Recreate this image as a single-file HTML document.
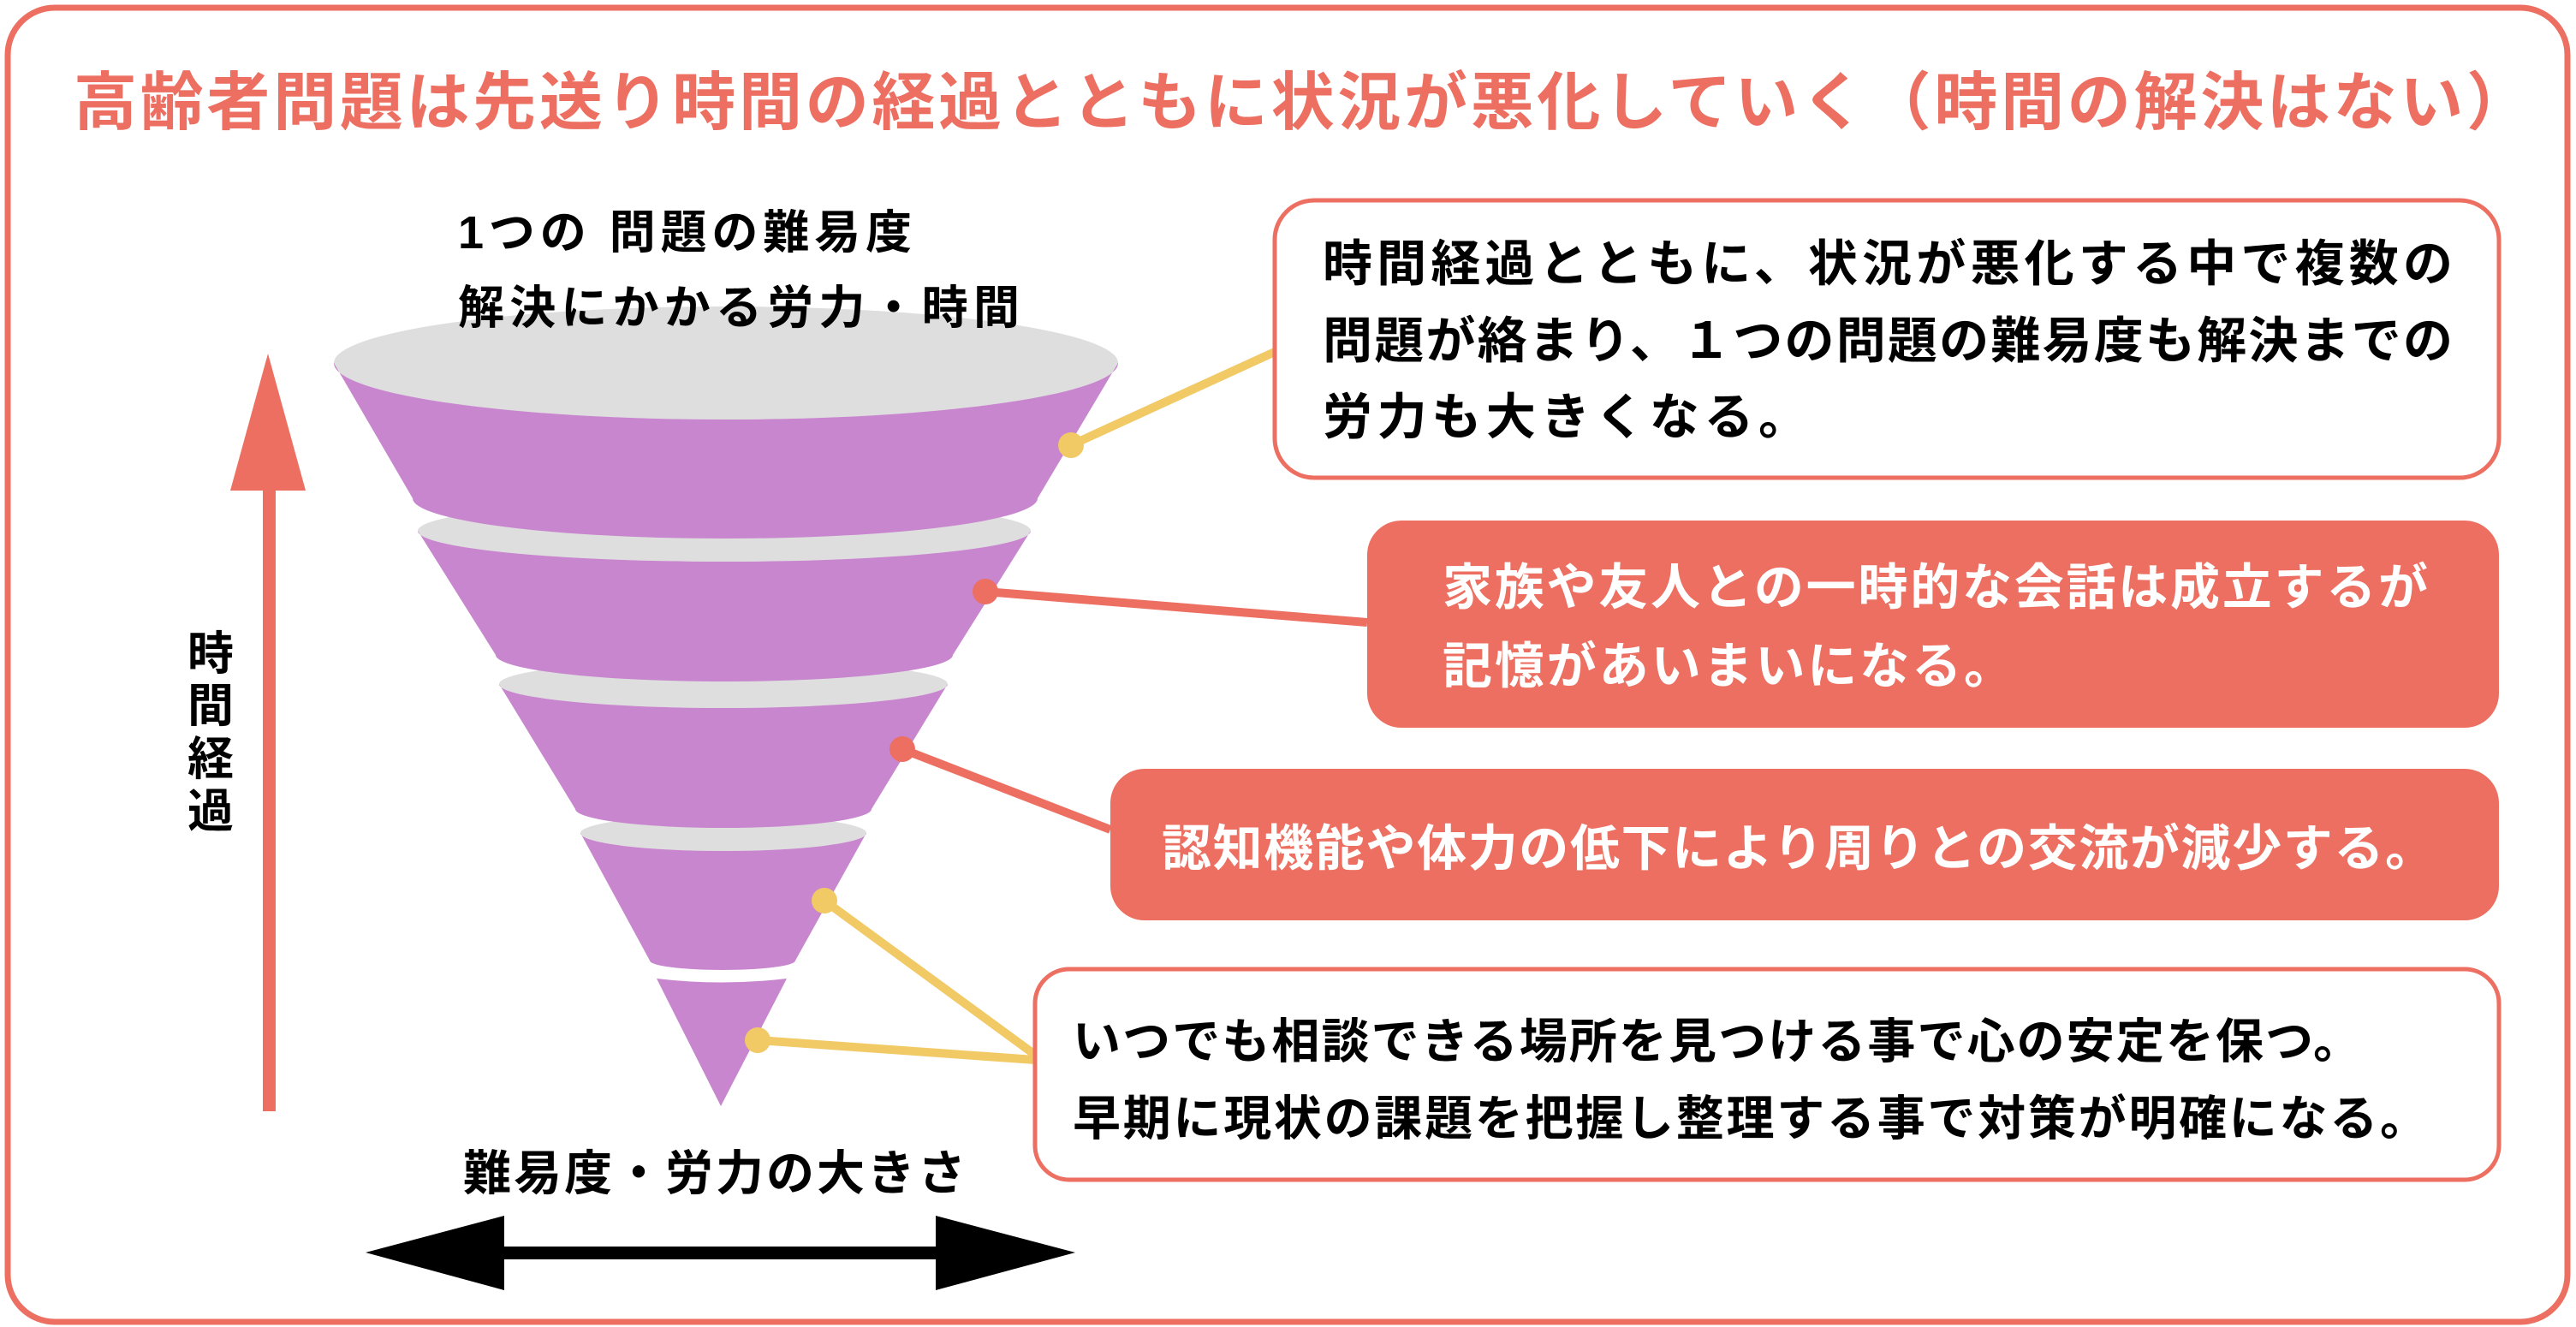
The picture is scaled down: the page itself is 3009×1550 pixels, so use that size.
<!DOCTYPE html>
<html><head><meta charset="utf-8"><style>
html,body{margin:0;padding:0;background:#fff;}
svg{display:block;}
text{font-family:"Liberation Sans","Noto Sans CJK JP",sans-serif;font-weight:bold;}
</style></head><body>
<svg width="3009" height="1550" viewBox="0 0 3009 1550" xmlns="http://www.w3.org/2000/svg">
<rect x="9" y="9" width="2990" height="1535" rx="55" fill="#fff" stroke="#ec6f61" stroke-width="7"/>
<text x="86" y="145" font-size="74" fill="#ec6f61" textLength="2869" lengthAdjust="spacing">高齢者問題は先送り時間の経過とともに状況が悪化していく（時間の解決はない）</text>

<!-- vertical arrow -->
<rect x="307" y="565" width="15" height="733" fill="#ec6f61"/>
<polygon points="313,413 269,573 357,573" fill="#ec6f61"/>
<text x="246" y="782" font-size="54" text-anchor="middle" fill="#000">時</text>
<text x="246" y="843" font-size="54" text-anchor="middle" fill="#000">間</text>
<text x="246" y="905" font-size="54" text-anchor="middle" fill="#000">経</text>
<text x="246" y="966" font-size="54" text-anchor="middle" fill="#000">過</text>

<!-- funnel -->
<path d="M767,1143 Q843,1152 919,1143 L842,1292 Z" fill="#c886ce"/>
<ellipse cx="845" cy="973" rx="167" ry="21" fill="#dedede"/>
<path d="M678,973 A167 21 0 0 0 1012,973 L929,1122 A85 11 0 0 1 759,1122 Z" fill="#c886ce"/>
<ellipse cx="845" cy="799" rx="262" ry="28" fill="#dedede"/>
<path d="M583,799 A262 28 0 0 0 1107,799 L1018,945 A173 22 0 0 1 672,945 Z" fill="#c886ce"/>
<ellipse cx="846" cy="620" rx="358" ry="36" fill="#dedede"/>
<path d="M488,620 A358 36 0 0 0 1204,620 L1113,765 A267 31 0 0 1 579,765 Z" fill="#c886ce"/>
<ellipse cx="848" cy="424" rx="458" ry="66" fill="#dedede"/>
<path d="M390,424 A458 66 0 0 0 1306,424 L1212,582 A365 47 0 0 1 482,582 Z" fill="#c886ce"/>

<text x="535" y="290" font-size="54" fill="#000" textLength="530" lengthAdjust="spacing">1つの 問題の難易度</text>
<text x="535" y="378" font-size="54" fill="#000" textLength="656" lengthAdjust="spacing">解決にかかる労力・時間</text>
<text x="541" y="1390" font-size="56" fill="#000" textLength="587" lengthAdjust="spacing">難易度・労力の大きさ</text>

<!-- double arrow -->
<rect x="585" y="1456" width="512" height="15" fill="#000"/>
<polygon points="427,1463 589,1420 589,1507" fill="#000"/>
<polygon points="1256,1463 1093,1420 1093,1507" fill="#000"/>

<!-- connectors -->
<line x1="1251" y1="520" x2="1489" y2="411" stroke="#f1c965" stroke-width="10"/>
<circle cx="1251" cy="520" r="15" fill="#f1c965"/>
<line x1="1151" y1="691" x2="1597" y2="727" stroke="#ec6f61" stroke-width="10"/>
<circle cx="1151" cy="691" r="15" fill="#ec6f61"/>
<line x1="1054" y1="875" x2="1297" y2="969" stroke="#ec6f61" stroke-width="10"/>
<circle cx="1054" cy="875" r="15" fill="#ec6f61"/>
<line x1="963" y1="1052" x2="1209" y2="1232" stroke="#f1c965" stroke-width="10"/>
<circle cx="963" cy="1052" r="15" fill="#f1c965"/>
<line x1="885" y1="1215" x2="1209" y2="1238" stroke="#f1c965" stroke-width="10"/>
<circle cx="885" cy="1215" r="15" fill="#f1c965"/>

<!-- boxes -->
<rect x="1489" y="234" width="1430" height="324" rx="46" fill="#fff" stroke="#ec6f61" stroke-width="5"/>
<text x="1545" y="328" font-size="58" fill="#000" textLength="1320" lengthAdjust="spacing">時間経過とともに、状況が悪化する中で複数の</text>
<text x="1545" y="418" font-size="58" fill="#000" textLength="1320" lengthAdjust="spacing">問題が絡まり、１つの問題の難易度も解決までの</text>
<text x="1545" y="507" font-size="58" fill="#000" textLength="567" lengthAdjust="spacing">労力も大きくなる。</text>

<rect x="1597" y="608" width="1322" height="242" rx="40" fill="#ec6f61"/>
<text x="1685" y="706" font-size="58" fill="#fff" textLength="1151" lengthAdjust="spacing">家族や友人との一時的な会話は成立するが</text>
<text x="1685" y="798" font-size="58" fill="#fff" textLength="667" lengthAdjust="spacing">記憶があいまいになる。</text>

<rect x="1297" y="898" width="1622" height="177" rx="40" fill="#ec6f61"/>
<text x="1357" y="1011" font-size="58" fill="#fff" textLength="1487" lengthAdjust="spacing">認知機能や体力の低下により周りとの交流が減少する。</text>

<rect x="1209" y="1132" width="1710" height="246" rx="40" fill="#fff" stroke="#ec6f61" stroke-width="5"/>
<text x="1253" y="1236" font-size="56" fill="#000" textLength="1505" lengthAdjust="spacing">いつでも相談できる場所を見つける事で心の安定を保つ。</text>
<text x="1253" y="1326" font-size="56" fill="#000" textLength="1583" lengthAdjust="spacing">早期に現状の課題を把握し整理する事で対策が明確になる。</text>
</svg>
</body></html>
